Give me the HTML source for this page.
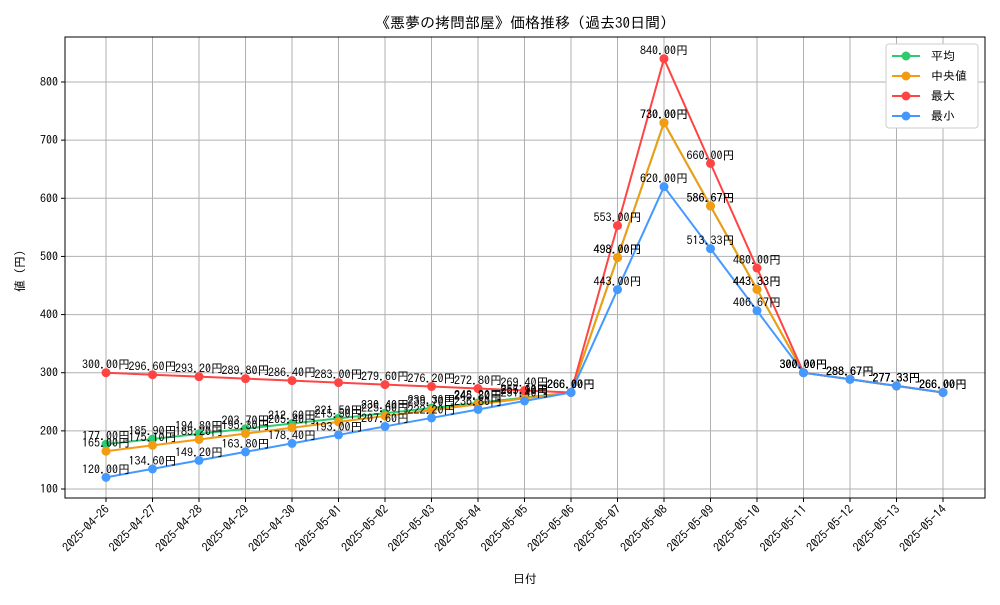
<!DOCTYPE html>
<html><head><meta charset="utf-8"><style>
body{margin:0;background:#fff;}
svg text{font-family:"IPAGothic","Liberation Sans","Noto Sans CJK JP",sans-serif;}
</style></head><body>
<svg id="chart" width="1000" height="600" xmlns="http://www.w3.org/2000/svg">
<rect width="1000" height="600" fill="#fff"/>
<text x="525" y="28" font-size="15" text-anchor="middle">《悪夢の拷問部屋》価格推移（過去30日間）</text>
<g id="grid"></g><g id="axes"></g><g id="series"></g><g id="labels"></g>
<rect x="65" y="37" width="920" height="461" fill="none" stroke="#000" stroke-width="1"/>
<text x="525" y="583" font-size="12" text-anchor="middle">日付</text>
<text transform="translate(24,268) rotate(-90)" font-size="12" text-anchor="middle">値（円）</text>
<g id="legend">
<rect x="886" y="44" width="92" height="84" fill="#fff" stroke="#ccc" rx="3"/>
</g>
</svg>
<script>
const dates=["2025-04-26","2025-04-27","2025-04-28","2025-04-29","2025-04-30","2025-05-01","2025-05-02","2025-05-03","2025-05-04","2025-05-05","2025-05-06","2025-05-07","2025-05-08","2025-05-09","2025-05-10","2025-05-11","2025-05-12","2025-05-13","2025-05-14"];
const avgVals=[177,185.9,194.8,203.7,212.6,221.5,230.4,239.3,248.2,257.1,266,498,730,586.67,443.33,300,288.67,277.33,266];
const medVals=[165,175.1,185.2,195.3,205.4,215.5,225.6,235.7,245.8,255.9,266,498,730,586.67,443.33,300,288.67,277.33,266];
const maxVals=[300,296.6,293.2,289.8,286.4,283,279.6,276.2,272.8,269.4,266,553,840,660,480,300,288.67,277.33,266];
const minVals=[120,134.6,149.2,163.8,178.4,193,207.6,222.2,236.8,251.4,266,443,620,513.33,406.67,300,288.67,277.33,266];
const yTicks=[100,200,300,400,500,600,700,800];
const NS="http://www.w3.org/2000/svg";
const xs=i=>106+i*(943-106)/18;
const ys=v=>489-(v-100)*(489-82)/700;
function mk(tag,attrs,parent){const e=document.createElementNS(NS,tag);for(const k in attrs)e.setAttribute(k,attrs[k]);parent.appendChild(e);return e;}
const grid=document.getElementById('grid'),axes=document.getElementById('axes'),ser=document.getElementById('series'),lab=document.getElementById('labels');
yTicks.forEach(t=>{const y=ys(t);
const l=mk('line',{x1:65,x2:985,y1:y,y2:y,stroke:'#b0b0b0','stroke-width':1},grid);


mk('line',{x1:61,x2:65,y1:y,y2:y,stroke:'#000'},axes);
const tx=mk('text',{x:58,y:y+4,'font-size':12,'text-anchor':'end'},axes);tx.textContent=t;

});
dates.forEach((d,i)=>{const x=xs(i);
const l=mk('line',{x1:x,x2:x,y1:37,y2:498,stroke:'#b0b0b0','stroke-width':1},grid);


mk('line',{x1:x,x2:x,y1:498,y2:502,stroke:'#000'},axes);
const tx=mk('text',{x:0,y:0,'font-size':12,'text-anchor':'end',transform:`translate(${x+4},${510}) rotate(-45)`},axes);tx.textContent=d;

});
const series=[["平均",avgVals,"#2ecc71","series-average"],["中央値",medVals,"#f39c12","series-median"],["最大",maxVals,"#ff4444","series-max"],["最小",minVals,"#4499ff","series-min"]];
series.forEach(([name,vals,col,nm])=>{
const g=mk('g',{},ser);


mk('polyline',{points:vals.map((v,i)=>xs(i)+','+ys(v)).join(' '),fill:'none',stroke:col,'stroke-width':2},g);
vals.forEach((v,i)=>{const c=mk('circle',{cx:xs(i),cy:ys(v),r:4.5,fill:col},g);


const t=mk('text',{x:xs(i),y:ys(v)-4,'font-size':12,'text-anchor':'middle'},lab);t.textContent=v.toFixed(2)+'円';

});
});
const leg=document.getElementById('legend');
series.forEach(([name,vals,col],k)=>{const y=56+k*20;
mk('line',{x1:892,x2:920,y1:y,y2:y,stroke:col,'stroke-width':2},leg);
mk('circle',{cx:906,cy:y,r:4.5,fill:col},leg);
const t=mk('text',{x:931,y:y+4,'font-size':12},leg);t.textContent=name;

});
</script>
</body></html>
